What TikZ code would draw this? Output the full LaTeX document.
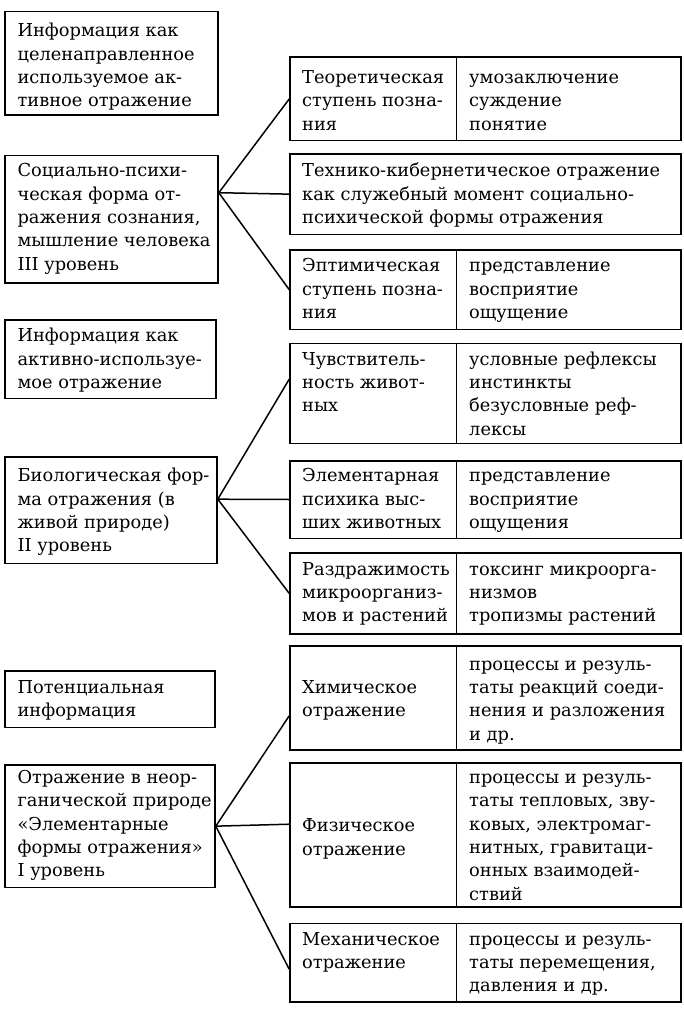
\documentclass[tikz,border=0pt]{standalone}
\usepackage{fontspec}
\setmainfont{DejaVu Serif}
\usetikzlibrary{fit}
\begin{document}
\begin{tikzpicture}[x=1pt,y=-1pt,
  box/.style={draw, line width=1.6pt, inner sep=0pt},
  txt/.style={anchor=north west, inner sep=0pt, align=left,
    font=\fontsize{17.8}{23.3}\selectfont},
  conn/.style={line width=1.5pt},
  divline/.style={line width=1.4pt}]
\useasboundingbox (0,0) rectangle (683,1011);
% left boxes
\node[box, fit={(5,11.7) (218,115)}] (L1) {};
\node[box, fit={(5,155.7) (218,282.7)}] (L2) {};
\node[box, fit={(5,320) (216,398.3)}] (L3) {};
\node[box, fit={(5,456.7) (217,563.3)}] (L4) {};
\node[box, fit={(5,670.7) (215,727.3)}] (L5) {};
\node[box, fit={(5,765) (215,887.3)}] (L6) {};
% right boxes
\node[box, fit={(290,57.3) (681,140.7)}] (T1) {};
\node[box, fit={(290,154) (681,234.3)}] (T2) {};
\node[box, fit={(290,250) (681,329.3)}] (T3) {};
\node[box, fit={(290,343.3) (681,443.3)}] (B1) {};
\node[box, fit={(290,460.7) (681,538.3)}] (B2) {};
\node[box, fit={(290,552.7) (681,634)}] (B3) {};
\node[box, fit={(290,646) (681,750)}] (C1) {};
\node[box, fit={(290,762.7) (681,906.7)}] (C2) {};
\node[box, fit={(290,923.3) (681,1001.7)}] (C3) {};
% dividers
\foreach \b in {T1,T3,B1,B2,B3,C1,C2,C3}
  \draw[divline] ([xshift=167pt]\b.north west) -- ([xshift=167pt]\b.south west);
% left texts
\node[txt] (L1t) at (17.4,20.4) {\strut Информация как\\целенаправленное\\используемое ак-\\тивное отражение};
\node[txt] (L2t) at (17.4,160.4) {\strut Социально-психи-\\ческая форма от-\\ражения сознания,\\мышление человека\\III уровень};
\node[txt] (L3t) at (17.4,325.4) {\strut Информация как\\активно-используе-\\мое отражение};
\node[txt] (L4t) at (17.4,465.4) {\strut Биологическая фор-\\ма отражения (в\\живой природе)\\II уровень};
\node[txt] (L5t) at (17.4,677.0) {\strut Потенциальная\\информация};
\node[txt] (L6t) at (17.4,767.0) {\strut Отражение в неор-\\ганической природе\\«Элементарные\\формы отражения»\\I уровень};
% right texts
\node[txt] (T1a) at (302,67.0) {\strut Теоретическая\\ступень позна-\\ния};
\node[txt] (T1b) at (469,67.0) {\strut умозаключение\\суждение\\понятие};
\node[txt] (T2a) at (302,160.4) {\strut Технико-кибернетическое отражение\\как служебный момент социально-\\психической формы отражения};
\node[txt] (T3a) at (302,255.4) {\strut Эптимическая\\ступень позна-\\ния};
\node[txt] (T3b) at (469,255.4) {\strut представление\\восприятие\\ощущение};
\node[txt] (B1a) at (302,348.7) {\strut Чувствитель-\\ность живот-\\ных};
\node[txt] (B1b) at (469,348.7) {\strut условные рефлексы\\инстинкты\\безусловные реф-\\лексы};
\node[txt] (B2a) at (302,465.4) {\strut Элементарная\\психика выс-\\ших животных};
\node[txt] (B2b) at (469,465.4) {\strut представление\\восприятие\\ощущения};
\node[txt] (B3a) at (302,558.7) {\strut Раздражимость\\микроорганиз-\\мов и растений};
\node[txt] (B3b) at (469,558.7) {\strut токсинг микроорга-\\низмов\\тропизмы растений};
\node[txt] (C1a) at (302,677.0) {\strut Химическое\\отражение};
\node[txt] (C1b) at (469,653.7) {\strut процессы и резуль-\\таты реакций соеди-\\нения и разложения\\и др.};
\node[txt] (C2a) at (302,815.4) {\strut Физическое\\отражение};
\node[txt] (C2b) at (469,767.0) {\strut процессы и резуль-\\таты тепловых, зву-\\ковых, электромаг-\\нитных, гравитаци-\\онных взаимодей-\\ствий};
\node[txt] (C3a) at (302,928.7) {\strut Механическое\\отражение};
\node[txt] (C3b) at (469,928.7) {\strut процессы и резуль-\\таты перемещения,\\давления и др.};
% connectors
\coordinate (o1) at ([yshift=-37.8pt]L2.north east);
\draw[conn] (o1) -- (T1.west);
\draw[conn] (o1) -- (T2.west);
\draw[conn] (o1) -- (T3.west);
\coordinate (o2) at ([yshift=-43.3pt]L4.north east);
\coordinate (e21) at ([yshift=-36.7pt]B1.north west);
\draw[conn] (o2) -- (e21);
\draw[conn] (o2) -- (B2.west);
\draw[conn] (o2) -- (B3.west);
\coordinate (e31) at ([yshift=-70.7pt]C1.north west);
\coordinate (e32) at ([yshift=-62.3pt]C2.north west);
\coordinate (e33) at ([yshift=-46.7pt]C3.north west);
\draw[conn] (L6.east) -- (e31);
\draw[conn] (L6.east) -- (e32);
\draw[conn] (L6.east) -- (e33);
\end{tikzpicture}
\end{document}
